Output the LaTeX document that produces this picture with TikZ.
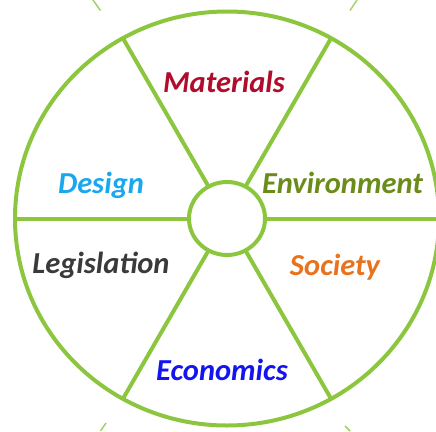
\documentclass[tikz,border=0pt]{standalone}
\usepackage{fontspec}
\setmainfont{Carlito}
\usetikzlibrary{shapes.geometric}
\definecolor{wheel}{HTML}{8CC63F}
\definecolor{cmat}{HTML}{B00C2C}
\definecolor{cdes}{HTML}{1AA7EE}
\definecolor{cenv}{HTML}{6B8C1A}
\definecolor{cleg}{HTML}{3A3A3A}
\definecolor{csoc}{HTML}{E8731E}
\definecolor{ceco}{HTML}{1414F0}
\begin{document}
\begin{tikzpicture}[x=1pt,y=-1pt,
  ringstyle/.style={ellipse,draw=wheel,line width=4pt,inner sep=0pt,outer sep=0pt},
  spokestyle/.style={draw=wheel,line width=4pt},
  tickstyle/.style={draw=wheel!80,line width=1.5pt},
  wordstyle/.style={font=\fontsize{30.5}{30.5}\selectfont\bfseries\itshape,anchor=base,inner sep=0pt}]
\useasboundingbox (0,0) rectangle (436,431);
\clip (0,0) rectangle (436,431);
\node[ringstyle,minimum width=424pt,minimum height=414pt] (rim) at (227,218.5) {};
\node[ringstyle,minimum width=76pt,minimum height=73pt] (hub) at (227,218.5) {};
\foreach \a in {0,60,...,300} \draw[spokestyle] (hub.\a) -- (rim.\a);
\node[wordstyle,text=cmat] (materials) at (224,92) {Materials};
\node[wordstyle,text=cdes] (design) at (101,193) {Design};
\node[wordstyle,text=cenv] (environment) at (342.5,193) {Environment};
\node[wordstyle,text=cleg] (legislation) at (101,273) {Legislation};
\node[wordstyle,text=csoc] (society) at (335,275) {Society};
\node[wordstyle,text=ceco] (economics) at (222,380) {Economics};
\coordinate (tla) at (93,0);   \coordinate (tlb) at (100.5,10.5);
\coordinate (tra) at (357,0);  \coordinate (trb) at (350,10.5);
\coordinate (bla) at (106,423); \coordinate (blb) at (100.5,431);
\coordinate (bra) at (345,426); \coordinate (brb) at (350,431);
\draw[tickstyle] (tla) -- (tlb);
\draw[tickstyle] (tra) -- (trb);
\draw[tickstyle] (bla) -- (blb);
\draw[tickstyle] (bra) -- (brb);
\end{tikzpicture}
\end{document}
